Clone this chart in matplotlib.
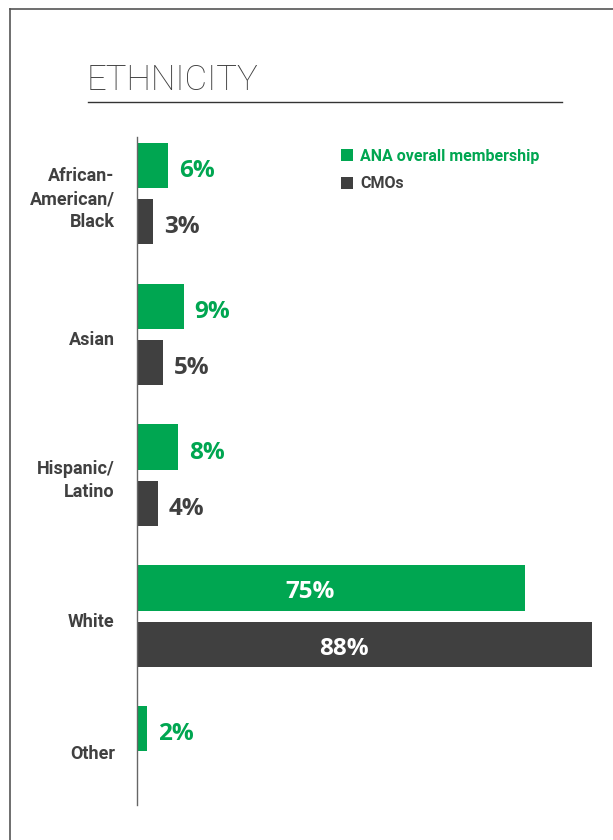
import matplotlib.pyplot as plt
from matplotlib.lines import Line2D
from matplotlib.patches import Rectangle

categories = ['African-\nAmerican/\nBlack', 'Asian', 'Hispanic/\nLatino', 'White', 'Other']
ana_overall = [6, 9, 8, 75, 2]
cmos = [3, 5, 4, 88, None]
series_names = ['ANA overall membership', 'CMOs']

GREEN = '#00A651'
DARK = '#404040'
TEXT = '#404040'
NARROW = ['Roboto', 'DejaVu Sans']
ROUND = ['Open Sans', 'DejaVu Sans']

W, H = 613, 840
fig = plt.figure(figsize=(W / 100, H / 100), dpi=100)

# рамка слева и сверху
fig.add_artist(Line2D([10 / W, 10 / W], [0, 1 - 9 / H], color='#555555', lw=1.2))
fig.add_artist(Line2D([10 / W, 1], [1 - 9 / H, 1 - 9 / H], color='#555555', lw=1.2))

# заголовок и линия под ним
fig.text(87 / W, 1 - 80 / H, 'ETHNICITY', fontsize=25, color=TEXT, family=NARROW,
         fontweight='light', ha='left', va='center')
fig.add_artist(Line2D([88 / W, 562 / W], [1 - 102 / H, 1 - 102 / H], color='#333333', lw=1.0))

ax = fig.add_axes([137 / W, 1 - 805 / H, 1 - 137 / W, 668 / H])
ax.set_xlim(0, 92)
ax.set_ylim(4.34, -0.40)

bh = 0.32
off = 0.2
for i, cat in enumerate(categories):
    v1 = ana_overall[i]
    v2 = cmos[i]
    ax.barh(i - off, v1, height=bh, color=GREEN, lw=0)
    if v2 is not None:
        ax.barh(i + off, v2, height=bh, color=DARK, lw=0)

    for v, y, c in [(v1, i - off, GREEN), (v2, i + off, DARK)]:
        if v is None:
            continue
        if v > 30:
            ax.annotate(f'{v}%', (v / 2 - 4, y), xytext=(0, -3), textcoords='offset points',
                        ha='center', va='center', color='white',
                        fontsize=17.5, fontweight='bold', family=ROUND)
        else:
            ax.annotate(f'{v}%', (v, y), xytext=(8, -4), textcoords='offset points',
                        ha='left', va='center', color=c, fontsize=17.5,
                        fontweight='bold', family=ROUND)

    # у "Other" нет второго бара, подпись чуть выше
    dy = -0.02 if cmos[i] is None else 0.04
    ax.text(-4.3, i + dy, cat, ha='right', va='center', multialignment='right',
            color=TEXT, fontsize=13, fontweight='bold', family=NARROW, linespacing=1.35)

for s in ['top', 'right', 'bottom']:
    ax.spines[s].set_visible(False)
ax.spines['left'].set_color('#666666')
ax.spines['left'].set_linewidth(1.0)
ax.set_xticks([])
ax.set_yticks([])
ax.patch.set_alpha(0)

# легенда
for k, (name, col) in enumerate(zip(series_names, [GREEN, DARK])):
    yc = 155 + 28 * k
    fig.add_artist(Rectangle((341 / W, 1 - (yc + 6) / H), 12 / W, 12 / H,
                             facecolor=col, edgecolor='none'))
    fig.text(360 / W, 1 - (yc + 1) / H, name, ha='left', va='center', color=col,
             fontsize=11.5, fontweight='bold', family=NARROW)

plt.savefig('out.png', dpi=100)
